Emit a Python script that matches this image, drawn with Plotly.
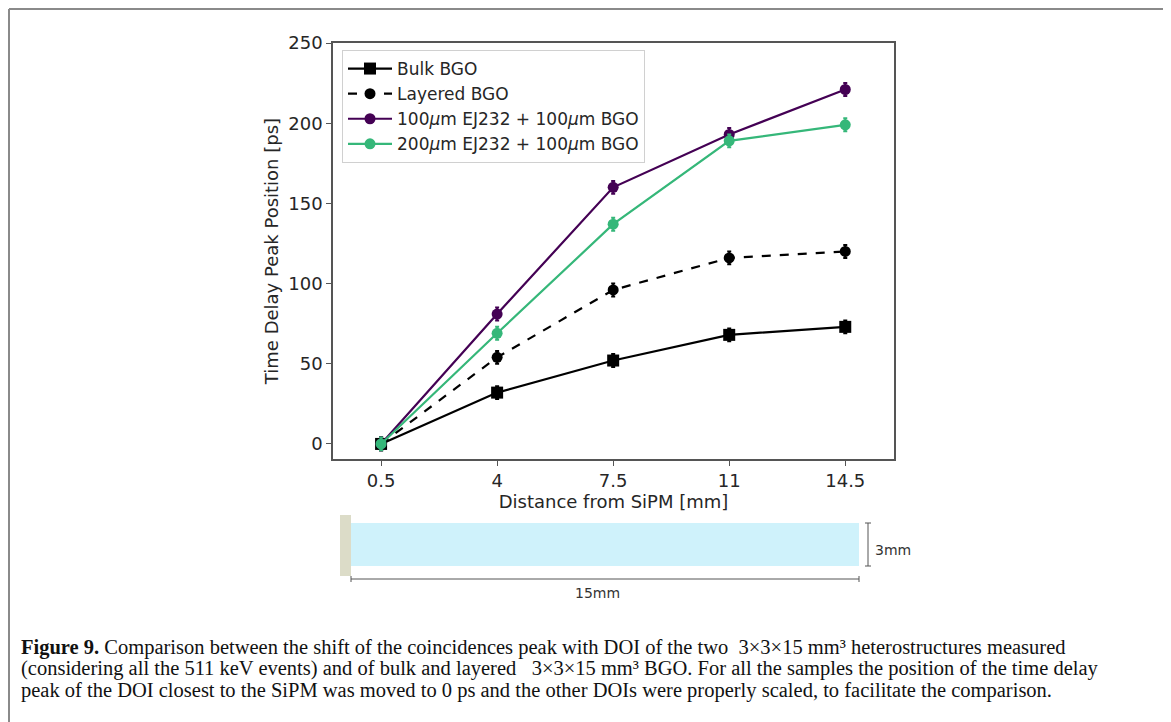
import plotly.graph_objects as go

W, H = 1171, 722
OFF = 8  # page body margin of the browser

distance = [0.5, 4, 7.5, 11, 14.5]
x_ticks = [0.5, 4, 7.5, 11, 14.5]
x_tick_labels = ["0.5", "4", "7.5", "11", "14.5"]
y_ticks = [0, 50, 100, 150, 200, 250]

bulk = [0, 32, 52, 68, 73]
bulk_err = [4, 4, 4, 4, 4]
layered = [0, 54, 96, 116, 120]
layered_err = [4, 4, 4, 4, 4]
ej100 = [0, 81, 160, 193, 221]
ej100_err = [4, 4, 4, 4, 4]
ej200 = [0, 69, 137, 189, 199]
ej200_err = [4, 4, 4, 4, 4]

names = ["Bulk BGO", "Layered BGO",
         "100<i>μ</i>m EJ232 + 100<i>μ</i>m BGO",
         "200<i>μ</i>m EJ232 + 100<i>μ</i>m BGO"]
colors = ["#000000", "#000000", "#440154", "#35b779"]
dashes = ["solid", "dash", "solid", "solid"]
symbols = ["square", "circle", "circle", "circle"]
series = [(bulk, bulk_err), (layered, layered_err), (ej100, ej100_err), (ej200, ej200_err)]


def px(x):
    return (x - OFF) / W


def py(y):
    return 1 - (y - OFF) / H


fig = go.Figure()
for (vals, errs), name, col, dash, sym in zip(series, names, colors, dashes, symbols):
    fig.add_trace(go.Scatter(
        x=distance, y=vals, name=name, mode="lines+markers",
        line=dict(color=col, width=2.2, dash=dash),
        marker=dict(symbol=sym, size=12 if sym == "square" else 11, color=col),
        error_y=dict(type="data", array=errs, color=col, thickness=2, width=2),
    ))

axis_font = dict(family="DejaVu Sans", size=18, color="#262626")

fig.update_layout(
    width=W, height=H,
    margin=dict(l=0, r=0, t=0, b=0, autoexpand=False),
    paper_bgcolor="white", plot_bgcolor="white",
    showlegend=True,
    legend=dict(
        x=px(342), y=py(50), xanchor="left", yanchor="top",
        bgcolor="rgba(255,255,255,0.9)", bordercolor="#d0d0d0", borderwidth=1,
        font=dict(family="DejaVu Sans", size=17, color="#262626"),
        tracegroupgap=0, itemwidth=44,
    ),
    xaxis=dict(
        domain=[px(333), px(894)], range=[-0.95, 15.97], automargin=True,
        tickmode="array", tickvals=x_ticks, ticktext=x_tick_labels,
        showgrid=False, zeroline=False, showline=True, mirror=True,
        linecolor="#555555", linewidth=1.5,
        ticks="outside", ticklen=5, tickwidth=1.3, tickcolor="#555555",
        tickfont=axis_font,
        title=dict(text="Distance from SiPM [mm]", font=axis_font, standoff=4),
    ),
    yaxis=dict(
        domain=[py(459), py(43)], range=[-9.4, 250], automargin=True,
        tickmode="array", tickvals=y_ticks,
        showgrid=False, zeroline=False, showline=True, mirror=True,
        linecolor="#555555", linewidth=1.5,
        ticks="outside", ticklen=5, tickwidth=1.3, tickcolor="#555555",
        tickfont=axis_font,
        title=dict(text="Time Delay Peak Position [ps]", font=axis_font, standoff=5),
    ),
)

shapes = []
frame_col = "#8a8a8a"
shapes.append(dict(type="line", xref="paper", yref="paper", x0=px(9), x1=px(1165), y0=py(9), y1=py(9),
                   line=dict(color=frame_col, width=2)))
shapes.append(dict(type="line", xref="paper", yref="paper", x0=px(9), x1=px(9), y0=py(9), y1=py(740),
                   line=dict(color=frame_col, width=2)))
shapes.append(dict(type="line", xref="paper", yref="paper", x0=px(1165), x1=px(1165), y0=py(9), y1=py(740),
                   line=dict(color=frame_col, width=2)))
shapes.append(dict(type="rect", xref="paper", yref="paper", x0=px(340), x1=px(351), y0=py(576), y1=py(515),
                   fillcolor="#dcdcc8", line=dict(width=0)))
shapes.append(dict(type="rect", xref="paper", yref="paper", x0=px(351), x1=px(859), y0=py(566), y1=py(523),
                   fillcolor="#cff2fb", line=dict(width=0)))
dim_col = "#555555"
shapes.append(dict(type="line", xref="paper", yref="paper", x0=px(351), x1=px(859), y0=py(579), y1=py(579),
                   line=dict(color=dim_col, width=1)))
for xx in (351, 859):
    shapes.append(dict(type="line", xref="paper", yref="paper", x0=px(xx), x1=px(xx), y0=py(576), y1=py(582),
                       line=dict(color=dim_col, width=1)))
shapes.append(dict(type="line", xref="paper", yref="paper", x0=px(868), x1=px(868), y0=py(523), y1=py(566),
                   line=dict(color=dim_col, width=1)))
for yy in (523, 566):
    shapes.append(dict(type="line", xref="paper", yref="paper", x0=px(865), x1=px(871), y0=py(yy), y1=py(yy),
                       line=dict(color=dim_col, width=1)))
fig.update_layout(shapes=shapes)

annotations = [
    dict(text="15mm", x=px(597), y=py(593), xref="paper", yref="paper", showarrow=False,
         font=dict(family="DejaVu Sans", size=14, color="#333333"), xanchor="center", yanchor="middle"),
    dict(text="3mm", x=px(873), y=py(550), xref="paper", yref="paper", showarrow=False,
         font=dict(family="DejaVu Sans", size=14, color="#333333"), xanchor="left", yanchor="middle"),
]
caption_lines = [
    "<b>Figure 9.</b> Comparison between the shift of the coincidences peak with DOI of the two  3×3×15 mm³ heterostructures measured",
    "(considering all the 511 keV events) and of bulk and layered   3×3×15 mm³ BGO. For all the samples the position of the time delay",
    "peak of the DOI closest to the SiPM was moved to 0 ps and the other DOIs were properly scaled, to facilitate the comparison.",
]
for i, line in enumerate(caption_lines):
    annotations.append(dict(text=line, x=px(19), y=py(647 + 21.5 * i), xref="paper", yref="paper",
                            showarrow=False, xanchor="left", yanchor="middle",
                            font=dict(family="Liberation Serif", size=20.5, color="#111111")))
fig.update_layout(annotations=annotations)

fig.write_html("out.html")
